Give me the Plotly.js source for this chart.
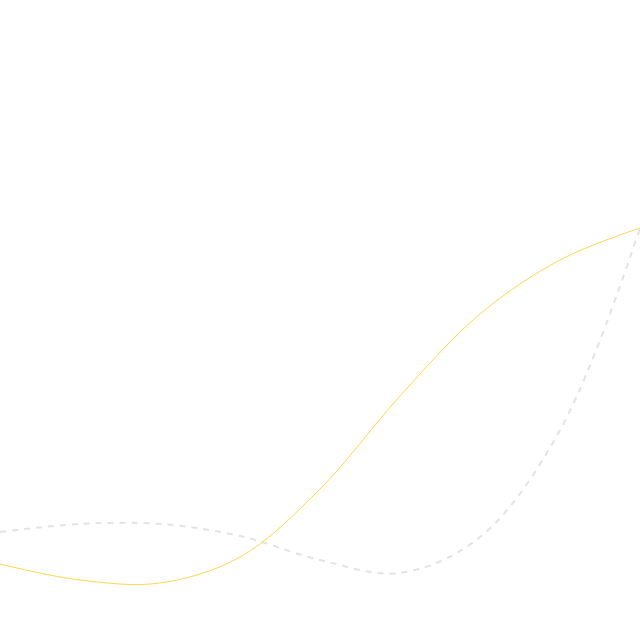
<!DOCTYPE html>
<html><head><meta charset="utf-8">
<script src="https://cdn.plot.ly/plotly-3.0.1.min.js"></script>
<style>html,body{margin:0;padding:0;background:#fff}#chart{width:640px;height:640px}</style>
</head><body><div id="chart"></div>
<script>
const categories = [0, 1, 2, 3, 4, 5, 6, 7, 8];
const seriesA = [76, 60, 57, 83, 151, 244, 326, 380, 412];
const seriesB = [108, 116, 116, 104, 80, 67, 103, 210, 412];

const traces = [
  {x: categories, y: seriesB, type: 'scatter', mode: 'lines',
   line: {shape: 'spline', smoothing: 1, color: '#e3e3e3', width: 2, dash: '6px,6px'}, hoverinfo: 'none'},
  {x: categories, y: seriesA, type: 'scatter', mode: 'lines',
   line: {shape: 'spline', smoothing: 1, color: '#ffd54f', width: 1}, hoverinfo: 'none'}
];
const layout = {
  width: 640, height: 640,
  margin: {l: 0, r: 0, t: 0, b: 0},
  paper_bgcolor: '#fff', plot_bgcolor: '#fff',
  showlegend: false,
  xaxis: {range: [0, 8], visible: false, fixedrange: true},
  yaxis: {range: [0, 640], visible: false, fixedrange: true}
};
Plotly.newPlot('chart', traces, layout, {displayModeBar: false, staticPlot: true});
</script></body></html>
